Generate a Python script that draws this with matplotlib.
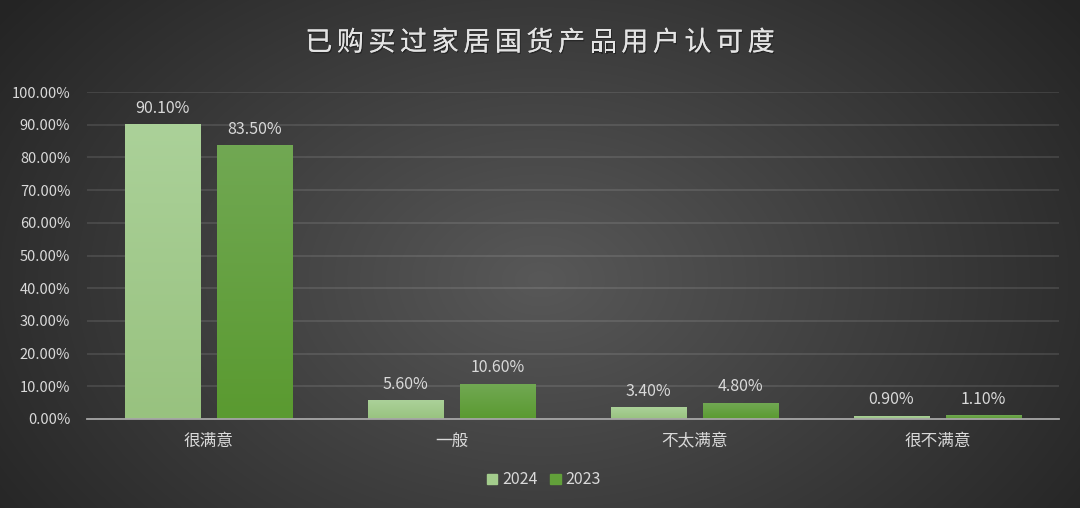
import numpy as np
import matplotlib
matplotlib.use("Agg")
import matplotlib.pyplot as plt
import matplotlib.patheffects as pe
from matplotlib.patches import Patch

plt.rcParams['font.family'] = ['Noto Sans CJK SC', 'DejaVu Sans']

title = "已购买过家居国货产品用户认可度"
categories = ["很满意", "一般", "不太满意", "很不满意"]
series_names = ["2024", "2023"]
values_2024 = [90.10, 5.60, 3.40, 0.90]
values_2023 = [83.50, 10.60, 4.80, 1.10]
yticks = [0, 10, 20, 30, 40, 50, 60, 70, 80, 90, 100]

W, H = 1080, 508
fig = plt.figure(figsize=(W / 100, H / 100), dpi=100)

# radial gradient background
bg = fig.add_axes([0, 0, 1, 1], zorder=-10)
yy, xx = np.mgrid[0:H, 0:W]
cx, cy = W * 0.5, H * 0.55
r = np.sqrt(((xx - cx) / (W * 0.62)) ** 2 + ((yy - cy) / (H * 0.9)) ** 2)
r = np.clip(r, 0, 1)
c_in = np.array([0x58, 0x58, 0x58]) / 255
c_out = np.array([0x24, 0x24, 0x24]) / 255
img = c_in[None, None, :] * (1 - r[..., None]) + c_out[None, None, :] * r[..., None]
bg.imshow(img, aspect='auto', extent=[0, 1, 0, 1])
bg.axis('off')

ax = fig.add_axes([87 / W, 1 - 419 / H, (1059 - 87) / W, (419 - 92) / H])
ax.set_facecolor('none')

x = np.arange(len(categories))
bw = 0.31
off = 0.19

def grad_bars(xs, vals, top, bottom):
    bars = ax.bar(xs, vals, bw, color='none', edgecolor='none', zorder=3)
    grad = np.linspace(0, 1, 100)[:, None]
    top = np.array(matplotlib.colors.to_rgb(top))
    bottom = np.array(matplotlib.colors.to_rgb(bottom))
    g = top[None, None, :] * (1 - grad[..., None]) + bottom[None, None, :] * grad[..., None]
    for b in bars:
        x0, w, h = b.get_x(), b.get_width(), b.get_height()
        ax.imshow(g, extent=[x0, x0 + w, 0, h], aspect='auto', zorder=2)
    return bars

b1 = grad_bars(x - off, values_2024, '#abd199', '#98c27f')
b2 = grad_bars(x + off, values_2023, '#71a853', '#5a9a30')

for xs, vals in ((x - off, values_2024), (x + off, values_2023)):
    for xi, v in zip(xs, vals):
        ax.text(xi, v + 2.4, f"{v:.2f}%", ha='center', va='bottom',
                color='#d9d9d9', fontsize=11.5)

ax.set_xlim(-0.5, len(categories) - 0.5)
ax.set_ylim(0, 100)
ax.set_yticks(yticks)
ax.set_yticklabels([f"{t:.2f}%" for t in yticks])
ax.set_xticks(x)
ax.set_xticklabels(categories, fontsize=12)
ax.tick_params(axis='both', length=0, colors='#d9d9d9')
ax.tick_params(axis='y', pad=12, labelsize=10.5)
ax.tick_params(axis='x', pad=10)
ax.grid(axis='y', color='#ffffff', alpha=0.12, linewidth=1.2, zorder=0)
for s in ['top', 'right', 'left']:
    ax.spines[s].set_visible(False)
ax.spines['bottom'].set_color('#a6a6a6')
ax.spines['bottom'].set_linewidth(1.3)
ax.spines['bottom'].set_zorder(4)

# title with letter spacing
n = len(title)
step = 31.6
x0 = W / 2 - step * (n - 1) / 2
for i, ch in enumerate(title):
    fig.text((x0 + i * step) / W, 1 - 43 / H, ch, ha='center', va='center',
             color='#e3e3e3', fontsize=19.5, fontweight='light',
             path_effects=[pe.withSimplePatchShadow(offset=(0.8, -1.0), shadow_rgbFace='black', alpha=0.35), pe.Normal()])

handles = [Patch(facecolor='#a3cc8c', edgecolor='#a3cc8c'),
           Patch(facecolor='#62a03a', edgecolor='#62a03a')]
fig.legend(handles, series_names, loc='center', bbox_to_anchor=(544 / W, 1 - 480 / H),
           ncol=2, frameon=False, labelcolor='#d9d9d9', fontsize=11.5,
           handlelength=0.65, handleheight=0.65, handletextpad=0.3, columnspacing=0.8)

fig.savefig('out.png', dpi=100)
